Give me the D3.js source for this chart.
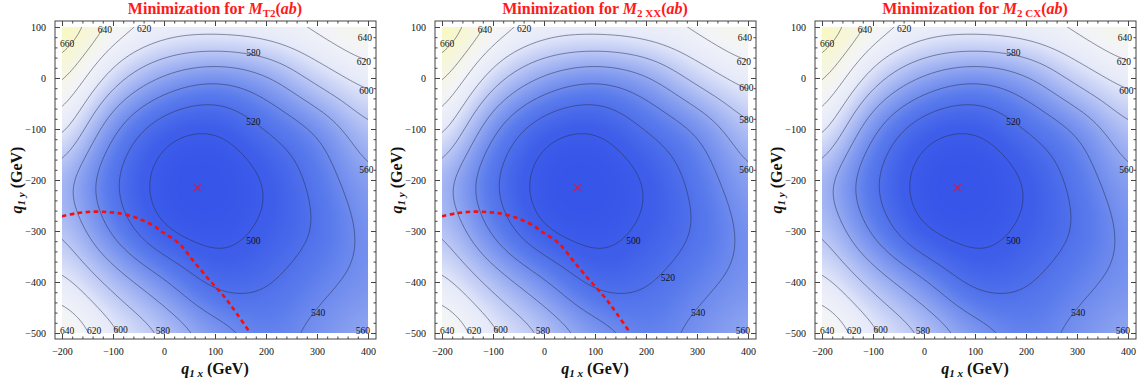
<!DOCTYPE html>
<html>
<head>
<meta charset="utf-8">
<script src="https://cdn.jsdelivr.net/npm/d3@7"></script>
<style>
  body { margin: 0; background: #fff; }
  svg { display: block; font-family: "Liberation Serif", "Times New Roman", serif; }
</style>
</head>
<body>
<svg id="chart" width="1145" height="387"></svg>
<script>
const gridX = [-200, -100, 0, 100, 200, 300, 400];
const gridY = [100, 0, -100, -200, -300, -400, -500];
// estimated function value (GeV) at each node, rows follow gridY, columns gridX
const fieldValues = [
  [685, 636, 616, 614, 617, 627, 646],
  [648, 590, 557, 544, 557, 587, 610],
  [611, 544, 508, 501, 521, 543, 578],
  [572, 523, 492, 487, 501, 527, 557],
  [581, 536, 501, 493, 504, 522, 547],
  [608, 573, 543, 514, 518, 534, 547],
  [644, 606, 579, 552, 535, 546, 561]
];
const contourLevels = [500, 520, 540, 560, 580, 600, 620, 640, 660, 680];
const xTicks = [-200, -100, 0, 100, 200, 300, 400];
const yTicks = [100, 0, -100, -200, -300, -400, -500];
const minPoint = [65, -215];
// red dashed boundary (panels 1 and 2)
const dashedCurve = [[-200, -271], [-170, -265], [-139, -262], [-110, -263], [-90, -265], [-60, -272],
  [-44, -278], [-20, -290], [-5, -301], [28, -323], [61, -363], [94, -402], [120, -431], [142, -461], [169, -500]];
// contour labels: [level, q1x, q1y]
const labelsCommon = [[660, -190, 68], [640, -116, 95], [620, -39, 97], [500, 175, -318], [540, 302, -461],
  [560, 390, -496], [640, -190, -496], [620, -137, -496], [600, -85, -493], [580, -2, -496],
  [640, 394, 80], [620, 392, 32], [560, 397, -180]];
const labelsMT2 = labelsCommon.concat([[580, 175, 49], [520, 175, -86], [600, 397, -25]]);
const labelsXX = labelsCommon.concat([[600, 397, -18], [580, 397, -81], [520, 243, -392]]);
const labelsCX = labelsCommon.concat([[580, 175, 49], [520, 175, -86], [600, 397, -25]]);
const panelSubs = ['T2', '2 XX', '2 CX'];
const panelLabels = [labelsMT2, labelsXX, labelsCX];
const panelDashed = [true, true, false];
const panelOffsets = [0, 380, 760];

const svg = d3.select('#chart');

const x = d3.scaleLinear().domain([-200, 400]).range([62, 368]);
const y = d3.scaleLinear().domain([100, -500]).range([27, 333]);
const frame = { left: 55, right: 376, top: 21, bottom: 339 };

const color = d3.scaleLinear()
  .domain([485, 505, 530, 555, 580, 603, 625, 650, 690])
  .range(['#3553e9', '#3f5fea', '#5a7bec', '#8aa1f0', '#bcc8f5', '#e6eaf9', '#f3f4f7', '#f6f6dc', '#fafab0'])
  .clamp(true);

// bicubic (Catmull-Rom) reading of the node table
function cr(p0, p1, p2, p3, t) {
  return 0.5 * (2 * p1 + (-p0 + p2) * t + (2 * p0 - 5 * p1 + 4 * p2 - p3) * t * t + (-p0 + 3 * p1 - 3 * p2 + p3) * t * t * t);
}
function node(i, j) {
  const ni = gridX.length, nj = gridY.length;
  if (i < 0) return 2 * node(0, j) - node(1, j);
  if (i >= ni) return 2 * node(ni - 1, j) - node(ni - 2, j);
  if (j < 0) return 2 * node(i, 0) - node(i, 1);
  if (j >= nj) return 2 * node(i, nj - 1) - node(i, nj - 2);
  return fieldValues[j][i];
}
const gx = d3.scaleLinear().domain([gridX[0], gridX[gridX.length - 1]]).range([0, gridX.length - 1]).clamp(true);
const gy = d3.scaleLinear().domain([gridY[0], gridY[gridY.length - 1]]).range([0, gridY.length - 1]).clamp(true);
function field(qx, qy) {
  const u = gx(qx), v = gy(qy);
  const i = Math.min(Math.floor(u), gridX.length - 2), j = Math.min(Math.floor(v), gridY.length - 2);
  const tu = u - i, tv = v - j;
  const rows = [];
  for (let k = -1; k <= 2; k++) {
    rows.push(cr(node(i - 1, j + k), node(i, j + k), node(i + 1, j + k), node(i + 2, j + k), tu));
  }
  return cr(rows[0], rows[1], rows[2], rows[3], tv);
}

// sampled + smoothed field, wider than the plot so edges stay outside the clip
const step = 5, sx0 = -400, sy0 = 300;
const nx = 201, ny = 201;
const samples = new Float64Array(nx * ny);
for (let j = 0; j < ny; j++) {
  for (let i = 0; i < nx; i++) samples[j * nx + i] = field(sx0 + i * step, sy0 - j * step);
}
d3.blur2({ data: samples, width: nx, height: ny }, 5);

function sampleAt(qx, qy) {
  const fi = (qx - sx0) / step, fj = (sy0 - qy) / step;
  const i = Math.floor(fi), j = Math.floor(fj), a = fi - i, b = fj - j;
  const v00 = samples[j * nx + i], v10 = samples[j * nx + i + 1];
  const v01 = samples[(j + 1) * nx + i], v11 = samples[(j + 1) * nx + i + 1];
  return (v00 * (1 - a) + v10 * a) * (1 - b) + (v01 * (1 - a) + v11 * a) * b;
}

// density image, shared by the three panels
const pw = x.range()[1] - x.range()[0], ph = y.range()[1] - y.range()[0];
const canvas = document.createElement('canvas');
canvas.width = pw; canvas.height = ph;
const ctx = canvas.getContext('2d');
const img = ctx.createImageData(pw, ph);
for (let r = 0; r < ph; r++) {
  for (let c = 0; c < pw; c++) {
    const v = sampleAt(x.invert(x.range()[0] + c + 0.5), y.invert(y.range()[0] + r + 0.5));
    const col = d3.rgb(color(v));
    const k = (r * pw + c) * 4;
    img.data[k] = col.r; img.data[k + 1] = col.g; img.data[k + 2] = col.b; img.data[k + 3] = 255;
  }
}
ctx.putImageData(img, 0, 0);
const densityUrl = canvas.toDataURL();

const contours = d3.contours().size([nx, ny]).thresholds(contourLevels)(Array.from(samples));
const contourPath = d3.geoPath(d3.geoTransform({
  point: function (cx, cy) {
    this.stream.point(x(sx0 + (cx - 0.5) * step), y(sy0 - (cy - 0.5) * step));
  }
}));

const fmt = (d) => (d < 0 ? '\u2212' + Math.abs(d) : '' + d);

panelOffsets.forEach((ox, p) => {
  const g = svg.append('g').attr('transform', `translate(${ox},0)`);

  g.append('clipPath').attr('id', 'clip' + p)
    .append('rect').attr('x', x.range()[0]).attr('y', y.range()[0]).attr('width', pw).attr('height', ph);

  const plot = g.append('g').attr('clip-path', `url(#clip${p})`);
  plot.append('image')
    .attr('x', x.range()[0]).attr('y', y.range()[0])
    .attr('width', pw).attr('height', ph)
    .attr('preserveAspectRatio', 'none')
    .attr('href', densityUrl);

  plot.selectAll('path.contour')
    .data(contours)
    .enter().append('path')
    .attr('class', 'contour')
    .attr('d', contourPath)
    .attr('fill', 'none')
    .attr('stroke', '#2a2e4a')
    .attr('stroke-opacity', 0.65)
    .attr('stroke-width', 0.8);

  if (panelDashed[p]) {
    plot.append('path')
      .datum(dashedCurve)
      .attr('d', d3.line().x((d) => x(d[0])).y((d) => y(d[1])).curve(d3.curveCatmullRom))
      .attr('fill', 'none')
      .attr('stroke', '#f01010')
      .attr('stroke-width', 2.6)
      .attr('stroke-dasharray', '4.5,3.5');
  }

  g.selectAll('text.clabel')
    .data(panelLabels[p])
    .enter().append('text')
    .attr('class', 'clabel')
    .attr('x', (d) => x(d[1]))
    .attr('y', (d) => y(d[2]))
    .attr('dy', '0.35em')
    .attr('text-anchor', 'middle')
    .attr('font-size', 9.5)
    .attr('fill', '#111')
    .text((d) => d[0]);

  // red cross at the minimum
  const mx = x(minPoint[0]), my = y(minPoint[1]);
  g.append('path')
    .attr('d', `M${mx - 3.5},${my - 3.5}L${mx + 3.5},${my + 3.5}M${mx - 3.5},${my + 3.5}L${mx + 3.5},${my - 3.5}`)
    .attr('stroke', '#e8102a')
    .attr('stroke-width', 1);

  // frame with inward ticks on all sides
  g.append('rect')
    .attr('x', frame.left).attr('y', frame.top)
    .attr('width', frame.right - frame.left).attr('height', frame.bottom - frame.top)
    .attr('fill', 'none').attr('stroke', '#444').attr('stroke-width', 1);

  const xMinor = d3.range(-200, 401, 20).filter((d) => d % 100 !== 0);
  const yMinor = d3.range(-500, 101, 20).filter((d) => d % 100 !== 0);
  const axes = [
    [d3.axisBottom, frame.bottom, true, x],
    [d3.axisTop, frame.top, false, x],
    [d3.axisLeft, frame.left, true, y],
    [d3.axisRight, frame.right, false, y]
  ];
  axes.forEach(([axisFn, pos, withLabels, sc]) => {
    const horizontal = sc === x;
    const tr = horizontal ? `translate(0,${pos})` : `translate(${pos},0)`;
    const major = horizontal ? xTicks : yTicks;
    const minor = horizontal ? xMinor : yMinor;
    const ga = g.append('g').attr('transform', tr)
      .call(axisFn(sc).tickValues(major).tickSize(-5).tickPadding(withLabels ? 9 : 0)
        .tickFormat(withLabels ? fmt : () => ''));
    ga.select('.domain').remove();
    ga.selectAll('line').attr('stroke', '#444');
    ga.selectAll('text').attr('font-size', 10).attr('fill', '#111')
      .attr('font-family', '"Liberation Serif", serif');
    const gm = g.append('g').attr('transform', tr)
      .call(axisFn(sc).tickValues(minor).tickSize(-2.5).tickFormat(() => ''));
    gm.select('.domain').remove();
    gm.selectAll('line').attr('stroke', '#444');
  });

  // title
  const t = g.append('text')
    .attr('x', 215).attr('y', 14)
    .attr('text-anchor', 'middle')
    .attr('fill', '#ff1a1a')
    .attr('font-weight', 'bold')
    .attr('font-size', 16);
  t.append('tspan').text('Minimization for ');
  t.append('tspan').attr('font-style', 'italic').text('M');
  t.append('tspan').attr('font-size', 11).attr('dy', 3).text(panelSubs[p]);
  t.append('tspan').attr('dy', -3).text('(');
  t.append('tspan').attr('font-style', 'italic').text('ab');
  t.append('tspan').text(')');

  // axis titles
  const xl = g.append('text')
    .attr('x', 215).attr('y', 374)
    .attr('text-anchor', 'middle')
    .attr('font-weight', 'bold')
    .attr('font-size', 16)
    .attr('fill', '#111');
  xl.append('tspan').attr('font-style', 'italic').text('q');
  xl.append('tspan').attr('font-style', 'italic').attr('font-size', 11).attr('dy', 3).text('1 x');
  xl.append('tspan').attr('dy', -3).text(' (GeV)');

  const yl = g.append('text')
    .attr('transform', 'translate(22,180) rotate(-90)')
    .attr('text-anchor', 'middle')
    .attr('font-weight', 'bold')
    .attr('font-size', 16)
    .attr('fill', '#111');
  yl.append('tspan').attr('font-style', 'italic').text('q');
  yl.append('tspan').attr('font-style', 'italic').attr('font-size', 11).attr('dy', 3).text('1 y');
  yl.append('tspan').attr('dy', -3).text(' (GeV)');
});
</script>
</body>
</html>
